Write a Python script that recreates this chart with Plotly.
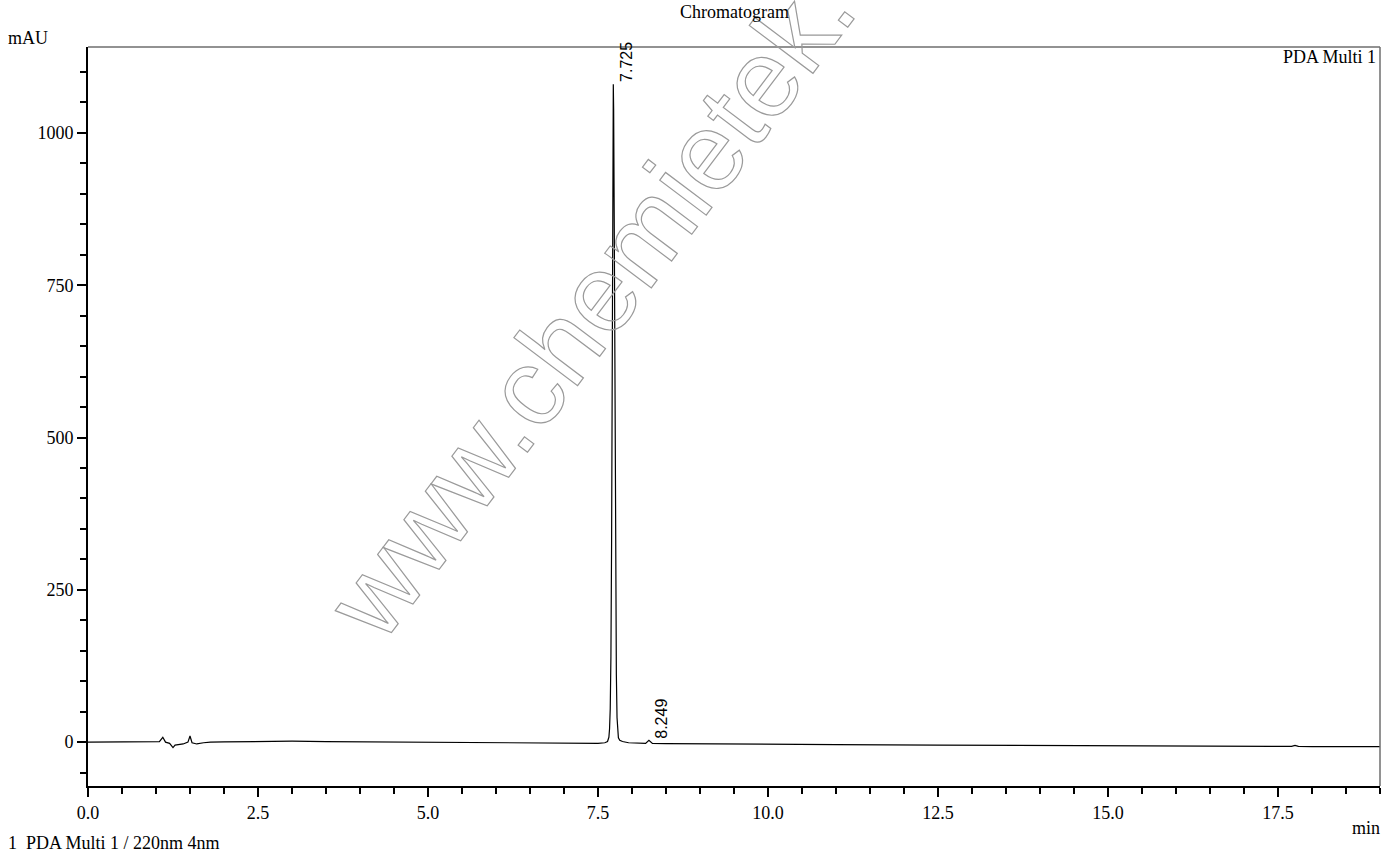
import plotly.graph_objects as go

# Retention time (min) and detector signal (mAU)
time_min = [0.0, 0.5, 1.0, 1.05, 1.10, 1.14, 1.20, 1.25, 1.28, 1.40, 1.47, 1.50, 1.53, 1.60, 1.70, 1.80,
            2.0, 2.3, 2.6, 3.0, 3.5, 4.0, 5.0, 6.0, 7.0, 7.5, 7.60, 7.64, 7.66, 7.67, 7.68, 7.69, 7.70,
            7.71, 7.72, 7.725, 7.73, 7.74, 7.75, 7.76, 7.77, 7.78, 7.79, 7.80, 7.82, 7.86, 7.95,
            8.10, 8.20, 8.249, 8.30, 8.50, 9.0, 10.0, 11.0, 12.5, 14.0, 15.0, 16.0, 17.0, 17.7,
            17.75, 17.8, 18.0, 18.5, 19.0]
signal_mau = [0.0, 0.0, 0.5, 1.0, 8.0, 0.0, -2.0, -9.0, -5.0, -3.0, 0.0, 10.0, -1.0, -3.0, -1.0, 0.0,
              0.5, 1.0, 2.0, 1.5, 1.0, 0.5, 0.0, -1.0, -1.5, -2.0, -1.0, 1.0, 8.0, 22.0, 55.0, 140.0, 330.0,
              620.0, 950.0, 1080.0, 1040.0, 830.0, 520.0, 260.0, 110.0, 40.0, 15.0, 7.0, 3.0, 1.0, -1.0,
              -2.0, -2.0, 3.0, -2.0, -2.5, -3.0, -3.5, -4.0, -5.0, -5.5, -6.0, -6.5, -7.0, -7.0,
              -5.5, -7.0, -7.5, -7.5, -7.5]

peak_times = [7.725, 8.249]
peak_heights = [1080.0, 3.0]
peak_labels = ["7.725", "8.249"]

x_ticks = [0.0, 2.5, 5.0, 7.5, 10.0, 12.5, 15.0, 17.5]
x_ticklabels = ["0.0", "2.5", "5.0", "7.5", "10.0", "12.5", "15.0", "17.5"]
y_ticks = [0, 250, 500, 750, 1000]
y_ticklabels = ["0", "250", "500", "750", "1000"]

watermark_text = "www.chemietek.com"

serif = "Liberation Serif"
fs = 18

fig = go.Figure()
fig.add_trace(go.Scatter(x=time_min, y=signal_mau, mode="lines",
                         line=dict(color="black", width=1.2), hoverinfo="skip",
                         showlegend=False))

# watermark (outlined text; outline applied via post_script below)
fig.add_annotation(xref="paper", yref="paper", x=0.437, y=0.762,
                   xanchor="center", yanchor="middle",
                   text=watermark_text, textangle=-53, showarrow=False,
                   font=dict(family="Liberation Sans", size=110, color="#9a9a9a"))

for t, h, lab in zip(peak_times, peak_heights, peak_labels):
    fig.add_annotation(x=t, y=h, text=lab, textangle=-90, showarrow=False,
                       xanchor="left", yanchor="bottom", xshift=2, yshift=0,
                       font=dict(family="Liberation Sans", size=16, color="black"))

fig.add_annotation(xref="paper", yref="paper", x=0.5, y=1, yanchor="middle", yshift=35,
                   text="Chromatogram", showarrow=False, font=dict(family=serif, size=fs, color="black"))
fig.add_annotation(xref="paper", yref="paper", x=0, y=1, xanchor="left", yanchor="middle",
                   xshift=-82, yshift=9, text="mAU", showarrow=False,
                   font=dict(family=serif, size=fs, color="black"))
fig.add_annotation(xref="paper", yref="paper", x=1, y=1, xanchor="right", yanchor="middle",
                   xshift=-2, yshift=-10, text="PDA Multi 1", showarrow=False,
                   font=dict(family=serif, size=fs, color="black"))
fig.add_annotation(xref="paper", yref="paper", x=1, y=0, xanchor="right", yanchor="middle",
                   xshift=2, yshift=-42, text="min", showarrow=False,
                   font=dict(family=serif, size=fs, color="black"))
fig.add_annotation(xref="paper", yref="paper", x=0, y=0, xanchor="left", yanchor="middle",
                   xshift=-82, yshift=-57, text="1  PDA Multi 1 / 220nm 4nm", showarrow=False,
                   font=dict(family=serif, size=fs, color="black"))

# top and right frame lines (grey)
fig.add_shape(type="line", xref="paper", yref="paper", x0=0, x1=1, y0=1, y1=1,
              line=dict(color="#6e6e6e", width=1.5))
fig.add_shape(type="line", xref="paper", yref="paper", x0=1, x1=1, y0=0, y1=1,
              line=dict(color="#6e6e6e", width=1.5))

fig.update_xaxes(range=[0, 19], showgrid=False, zeroline=False,
                 showline=True, linecolor="black", linewidth=2,
                 tickmode="array", tickvals=x_ticks, ticktext=x_ticklabels,
                 ticks="outside", ticklen=9, tickwidth=1.5, tickcolor="black",
                 minor=dict(dtick=0.5, ticks="outside", ticklen=6, tickwidth=1.5, tickcolor="black"),
                 tickfont=dict(family=serif, size=fs, color="black"))
fig.update_yaxes(range=[-72, 1141], showgrid=False, zeroline=False,
                 showline=True, linecolor="black", linewidth=2,
                 tickmode="array", tickvals=y_ticks, ticktext=y_ticklabels,
                 ticks="outside", ticklen=9, tickwidth=1.5, tickcolor="black",
                 minor=dict(dtick=50, tick0=0, ticks="outside", ticklen=6, tickwidth=1.5, tickcolor="black"),
                 tickfont=dict(family=serif, size=fs, color="black"))

fig.update_layout(width=1395, height=857, margin=dict(l=88, r=15, t=47, b=71),
                  plot_bgcolor="white", paper_bgcolor="white", showlegend=False)

post = """
document.body.style.margin='0';
document.body.style.overflow='hidden';
document.querySelectorAll('.annotation-text').forEach(function(el){
  if (el.textContent === '%s') {
    el.style.fill = 'none';
    el.style.stroke = '#9a9a9a';
    el.style.strokeWidth = '1.2px';
  }
});
""" % watermark_text

fig.write_html("out.html", post_script=post, config={"displayModeBar": False})
